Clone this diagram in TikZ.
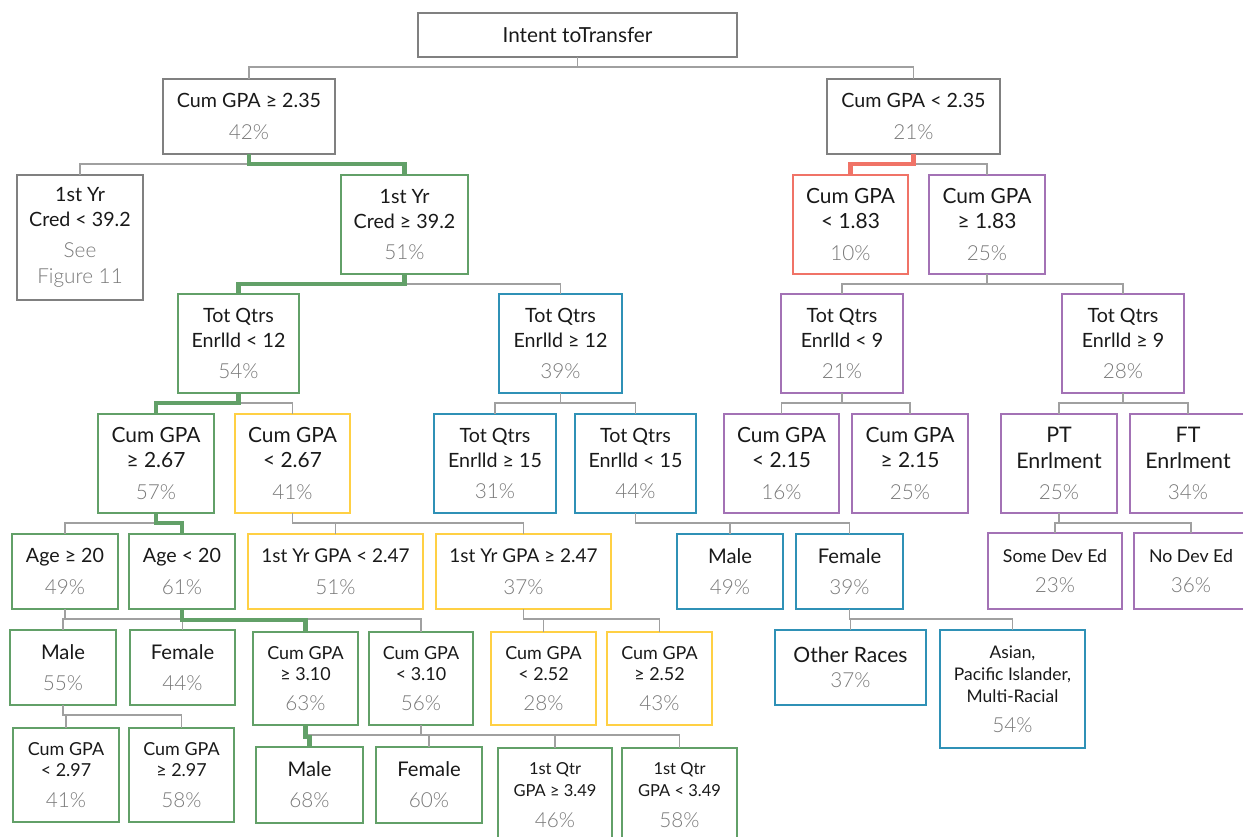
\documentclass[tikz,border=0pt]{standalone}
\usepackage{fontspec}
\setmainfont{Lato}
\newfontfamily\pctfont{Lato Light}

\definecolor{boxgray}{RGB}{128,128,128}
\definecolor{boxgreen}{RGB}{98,160,104}
\definecolor{boxred}{RGB}{240,115,103}
\definecolor{boxpurple}{RGB}{163,114,181}
\definecolor{boxblue}{RGB}{47,145,182}
\definecolor{boxyellow}{RGB}{255,208,68}
\definecolor{linkgray}{RGB}{160,160,160}
\definecolor{pctgray}{RGB}{120,120,120}
\definecolor{txt}{RGB}{25,25,25}

\newlength{\pcgap}
\newcommand{\gr}[1]{{\color{pctgray}\pctfont\fontsize{11.8}{14.2}\selectfont #1}}
\newcommand{\pc}[1]{\\[\pcgap]\gr{#1\%}}

\begin{document}
\begin{tikzpicture}[x=0.02cm, y=-0.02cm,
  tbox/.style={rectangle, draw, line width=1.4pt, inner sep=0pt, outer sep=0pt,
    align=center, text=txt, font=\fontsize{11.2}{14.2}\selectfont},
  fs/.style n args={3}{font=\fontsize{#1}{#2}\selectfont\setlength{\pcgap}{#3}},
  wh/.style 2 args={minimum width={#1*0.02cm}, minimum height={#2*0.02cm}},
  graybox/.style={tbox, draw=boxgray},
  greenbox/.style={tbox, draw=boxgreen},
  redbox/.style={tbox, draw=boxred},
  purplebox/.style={tbox, draw=boxpurple},
  bluebox/.style={tbox, draw=boxblue},
  yellowbox/.style={tbox, draw=boxyellow},
  cumtxt/.style={fs={11.9}{14.4}{3.5pt}},
  tottxt/.style={fs={11.2}{14.7}{2.9pt}},
  smalltxt/.style={fs={10.2}{11.9}{5.4pt}},
  link/.style={draw=linkgray, line width=0.9pt},
  hlgreen/.style={draw=boxgreen, line width=2.4pt},
  hlred/.style={draw=boxred, line width=2.4pt}
]
  \useasboundingbox (0,0) rectangle (1243,837);

  % top levels
  \node[graybox, fs={11.8}{14.2}{0pt}, wh={319}{44}] (root) at (577.5,35) {Intent toTransfer};
  \node[graybox, fs={11.2}{14.2}{3.9pt}, wh={172}{75}] (lA) at (249,116.5) {Cum GPA ≥ 2.35\pc{42}};
  \node[graybox, fs={11.2}{14.2}{3.9pt}, wh={173}{75}] (lB) at (913.5,116.5) {Cum GPA < 2.35\pc{21}};

  \node[graybox, fs={11.2}{14.2}{3.4pt}, wh={126}{125}] (cLo) at (80,237.5) {1st Yr\\Cred < 39.2\\[3.4pt]\gr{See}\\[0.5pt]\gr{Figure 11}};
  \node[greenbox, fs={11.2}{14.2}{3.4pt}, wh={127}{99}] (cHi) at (404.5,224.5) {1st Yr\\Cred ≥ 39.2\pc{51}};
  \node[redbox, cumtxt, wh={115}{99}] (gLo) at (850.5,224.5) {Cum GPA\\< 1.83\pc{10}};
  \node[purplebox, cumtxt, wh={116}{99}] (gHi) at (987,224.5) {Cum GPA\\≥ 1.83\pc{25}};

  % level 3
  \node[greenbox, tottxt, wh={121}{99}] (qA) at (238.5,343.5) {Tot Qtrs\\Enrlld < 12\pc{54}};
  \node[bluebox, tottxt, wh={123}{99}] (qB) at (560.5,343.5) {Tot Qtrs\\Enrlld ≥ 12\pc{39}};
  \node[purplebox, tottxt, wh={122}{99}] (qC) at (842,343.5) {Tot Qtrs\\Enrlld < 9\pc{21}};
  \node[purplebox, tottxt, wh={122}{99}] (qD) at (1123,343.5) {Tot Qtrs\\Enrlld ≥ 9\pc{28}};

  % level 4
  \node[greenbox, cumtxt, wh={116}{99}] (gA) at (156,463.5) {Cum GPA\\≥ 2.67\pc{57}};
  \node[yellowbox, cumtxt, wh={115}{99}] (gB) at (292.5,463.5) {Cum GPA\\< 2.67\pc{41}};
  \node[bluebox, tottxt, wh={122}{99}] (qE) at (495,463.5) {Tot Qtrs\\Enrlld ≥ 15\pc{31}};
  \node[bluebox, tottxt, wh={121}{99}] (qF) at (635.5,463.5) {Tot Qtrs\\Enrlld < 15\pc{44}};
  \node[purplebox, cumtxt, wh={115}{99}] (gC) at (781.5,463.5) {Cum GPA\\< 2.15\pc{16}};
  \node[purplebox, cumtxt, wh={116}{99}] (gD) at (910,463.5) {Cum GPA\\≥ 2.15\pc{25}};
  \node[purplebox, fs={12.2}{14.7}{3.4pt}, wh={116}{99}] (ptE) at (1059,463.5) {PT\\Enrlment\pc{25}};
  \node[purplebox, fs={12.2}{14.7}{3.4pt}, wh={116}{99}] (ftE) at (1188,463.5) {FT\\Enrlment\pc{34}};

  % level 5
  \node[greenbox, fs={11.2}{14.2}{3.7pt}, wh={106}{75}] (aOld) at (65,571.5) {Age ≥ 20\pc{49}};
  \node[greenbox, fs={11.2}{14.2}{3.7pt}, wh={106}{75}] (aYng) at (182,571.5) {Age < 20\pc{61}};
  \node[yellowbox, fs={10.8}{14.2}{3.7pt}, wh={175}{75}] (yLo) at (335.5,571.5) {1st Yr GPA < 2.47\pc{51}};
  \node[yellowbox, fs={10.8}{14.2}{3.7pt}, wh={175}{75}] (yHi) at (523.5,571.5) {1st Yr GPA ≥ 2.47\pc{37}};
  \node[bluebox, fs={11.5}{14.2}{3.7pt}, wh={106}{75}] (mB) at (730,571.5) {Male\pc{49}};
  \node[bluebox, fs={11.5}{14.2}{3.7pt}, wh={107}{75}] (fB) at (849.5,571.5) {Female\pc{39}};
  \node[purplebox, fs={10.1}{14.2}{2.8pt}, wh={134}{76}] (dSome) at (1055,571) {Some Dev Ed\pc{23}};
  \node[purplebox, fs={10.1}{14.2}{2.8pt}, wh={114}{76}] (dNo) at (1191,571) {No Dev Ed\pc{36}};

  % level 6
  \node[greenbox, fs={11.5}{14.2}{3.4pt}, wh={106}{75}] (mA) at (63,667.5) {Male\pc{55}};
  \node[greenbox, fs={11.5}{14.2}{3.4pt}, wh={105}{75}] (fA) at (182.5,667.5) {Female\pc{44}};
  \node[greenbox, smalltxt, wh={105}{93}] (hA) at (305.5,678.5) {Cum GPA\\≥ 3.10\pc{63}};
  \node[greenbox, smalltxt, wh={104}{93}] (hB) at (421,678.5) {Cum GPA\\< 3.10\pc{56}};
  \node[yellowbox, smalltxt, wh={105}{93}] (hC) at (543.5,678.5) {Cum GPA\\< 2.52\pc{28}};
  \node[yellowbox, smalltxt, wh={105}{93}] (hD) at (659.5,678.5) {Cum GPA\\≥ 2.52\pc{43}};
  \node[bluebox, fs={12}{14.2}{0pt}, wh={151}{75}] (rOth) at (850.5,667.5) {Other Races\pc{37}};
  \node[bluebox, fs={9.9}{12.5}{4.5pt}, wh={145}{118}] (rAsn) at (1012.5,689) {Asian,\\Pacific Islander,\\Multi-Racial\pc{54}};

  % level 7
  \node[greenbox, smalltxt, wh={106}{94}] (kA) at (66,775) {Cum GPA\\< 2.97\pc{41}};
  \node[greenbox, smalltxt, wh={105}{94}] (kB) at (181.5,775) {Cum GPA\\≥ 2.97\pc{58}};
  \node[greenbox, fs={11.5}{14.2}{3.4pt}, wh={107}{76}] (mC) at (309.5,785) {Male\pc{68}};
  \node[greenbox, fs={11.5}{14.2}{3.4pt}, wh={106}{76}] (fC) at (429,785) {Female\pc{60}};
  \node[greenbox, fs={9.4}{12.5}{5.1pt}, wh={114}{94}] (tA) at (555,795) {1st Qtr\\GPA ≥ 3.49\pc{46}};
  \node[greenbox, fs={9.4}{12.5}{5.1pt}, wh={115}{94}] (tB) at (679.5,795) {1st Qtr\\GPA < 3.49\pc{58}};

  % branches
  \foreach \p/\c in {root/lA, root/lB, lA/cLo, lA/cHi, lB/gLo, lB/gHi,
      cHi/qA, cHi/qB, gHi/qC, gHi/qD, qA/gA, qA/gB, qB/qE, qB/qF,
      qC/gC, qC/gD, qD/ptE, qD/ftE, gA/aOld, gA/aYng, gB/yLo, gB/yHi,
      qF/mB, qF/fB, ptE/dSome, ptE/dNo, aOld/mA, aOld/fA, aYng/hA, aYng/hB,
      yHi/hC, yHi/hD, fB/rOth, fB/rAsn, mA/kA, mA/kB, hA/mC, hA/fC,
      hB/tA, hB/tB}
    \draw[link] (\p.south) -- ++(0,10) -| (\c.north);

  % highlighted paths
  \draw[hlgreen] (lA.south) -- ++(0,10) -| (cHi.north);
  \draw[hlgreen] (cHi.south) -- ++(0,10) -| (qA.north);
  \draw[hlgreen] (qA.south) -- ++(0,10) -| (gA.north);
  \draw[hlgreen] (gA.south) -- ++(0,10) -| (aYng.north);
  \draw[hlgreen] (aYng.south) -- ++(0,11) -| (hA.north);
  \draw[hlgreen] (hA.south) -- ++(0,12) -| (mC.north);
  \draw[hlred] (lB.south) -- ++(0,10) -| (gLo.north);
\end{tikzpicture}
\end{document}
